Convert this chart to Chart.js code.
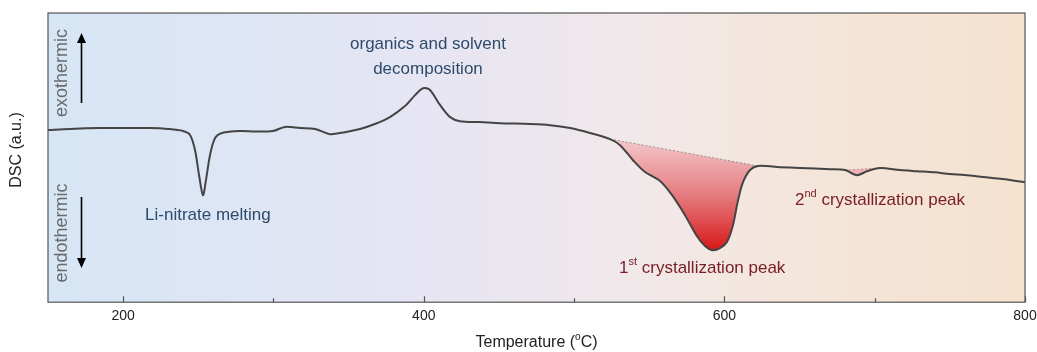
<!DOCTYPE html>
<html>
<head>
<meta charset="utf-8">
<script src="https://cdn.jsdelivr.net/npm/chart.js@4.4.1/dist/chart.umd.min.js"></script>
<style>
    html, body { margin: 0; padding: 0; background: #ffffff; }
    #wrap { width: 1037px; height: 352px; }
</style>
</head>
<body>
<div id="wrap"><canvas id="dscChart" width="1037" height="352"></canvas></div>
<script>
// DSC trace (temperature in C, signal in a.u. on a 0..100 scale)
var dscTemps = [150, 164.6, 184.6, 199.9, 217.9, 229.8, 239.8, 244.5, 247.8, 250.5, 253.1, 255.1, 257.8, 261.1, 265.8,
    277.7, 288, 299.7, 307.7, 317.7, 327.6, 337.6, 347.6, 357.6, 367.5, 377.5, 387.5, 394.2, 399.5, 404.1, 410.8,
    417.5, 424.1, 437.4, 450.7, 470.7, 484.0, 497.3, 510.6, 523.9, 530.6, 539.2, 547.2, 557.2, 565.2, 573.8,
    581.8, 587.1, 591.8, 597.1, 601.7, 605.7, 609.1, 612.4, 617.1, 622.4, 637.0, 650.3, 670.3, 680.3, 688.2,
    694.9, 703.5, 716.8, 728.2, 740, 750.1, 760, 772.1, 785, 800];
var dscValues = [59.5, 59.9, 60.2, 60.2, 60.2, 59.9, 59.2, 57.8, 52.6, 43.9, 37.0, 42.2, 50.9, 56.7, 58.5,
    59.2, 59.0, 59.2, 60.6, 60.2, 59.9, 58.1, 58.8, 59.9, 61.6, 64.0, 67.8, 71.6, 74.0, 73.4, 68.2,
    64.0, 62.6, 62.3, 61.9, 61.6, 61.2, 60.2, 58.5, 56.4, 54.3, 49.1, 45.0, 41.9, 37.0, 30.1,
    22.8, 19.4, 18.0, 18.7, 20.8, 26.6, 35.3, 41.5, 45.7, 47.1, 46.7, 46.4, 46.0, 45.7, 43.9,
    45.3, 46.4, 45.7, 45.3, 44.9, 44.3, 44.0, 43.3, 42.6, 41.5];

// dotted baselines under the two crystallization peaks
var base1Temps = [523.9, 622.4];
var base1Values = [56.4, 47.1];
var base2Temps = [680.3, 703.5];
var base2Values = [45.7, 46.4];

var majorTicks = [200, 400, 600, 800];
var minorTicks = [300, 500, 700];

function toPoints(xs, ys) {
    var out = [];
    for (var i = 0; i < xs.length; i++) {
        out.push({ x: xs[i], y: ys[i] });
    }
    return out;
}
function slicePoints(lo, hi) {
    return toPoints(dscTemps, dscValues).filter(function (p) { return p.x >= lo && p.x <= hi; });
}

function peakGradient(context) {
    var chart = context.chart;
    if (!chart.chartArea) return 'rgba(220,40,40,0.6)';
    var yS = chart.scales.y;
    var g = chart.ctx.createLinearGradient(0, yS.getPixelForValue(56), 0, yS.getPixelForValue(18));
    g.addColorStop(0, '#f4c6c8');
    g.addColorStop(0.5, '#e47c80');
    g.addColorStop(1, '#d81818');
    return g;
}

// superscript-aware text helper
function drawParts(ctx, parts, x, y, size, align) {
    var total = 0;
    parts.forEach(function (p) {
        ctx.font = (p[1] ? Math.round(size * 0.62) : size) + 'px "Liberation Sans", Arial, sans-serif';
        total += ctx.measureText(p[0]).width;
    });
    var cx = x;
    if (align == 'center') cx = x - total / 2;
    ctx.textAlign = 'left';
    ctx.textBaseline = 'middle';
    parts.forEach(function (p) {
        ctx.font = (p[1] ? Math.round(size * 0.62) : size) + 'px "Liberation Sans", Arial, sans-serif';
        ctx.fillText(p[0], cx, p[1] ? y - size * 0.38 : y);
        cx += ctx.measureText(p[0]).width;
    });
}

function drawArrow(ctx, x, y0, y1) {
    var dir = y1 < y0 ? -1 : 1;
    ctx.strokeStyle = '#000';
    ctx.fillStyle = '#000';
    ctx.lineWidth = 1.6;
    ctx.beginPath();
    ctx.moveTo(x, y0);
    ctx.lineTo(x, y1 - dir * 8);
    ctx.stroke();
    ctx.beginPath();
    ctx.moveTo(x, y1);
    ctx.lineTo(x - 4.5, y1 - dir * 10);
    ctx.lineTo(x + 4.5, y1 - dir * 10);
    ctx.closePath();
    ctx.fill();
}

var dscDecor = {
    id: 'dscDecor',
    beforeDatasetsDraw: function (chart) {
        var ctx = chart.ctx, a = chart.chartArea;
        var g = ctx.createLinearGradient(a.left, 0, a.right, 0);
        g.addColorStop(0, '#d6e6f5');
        g.addColorStop(0.38, '#e6e5f3');
        g.addColorStop(0.6, '#f1e8ea');
        g.addColorStop(0.75, '#f4e6dc');
        g.addColorStop(1, '#f5e2cf');
        ctx.save();
        ctx.fillStyle = g;
        ctx.fillRect(a.left, a.top, a.right - a.left, a.bottom - a.top);
        ctx.restore();
    },
    afterDraw: function (chart) {
        var ctx = chart.ctx, a = chart.chartArea;
        var xS = chart.scales.x, yS = chart.scales.y;
        ctx.save();
        // frame
        ctx.strokeStyle = '#555';
        ctx.lineWidth = 1.2;
        ctx.strokeRect(a.left, a.top, a.right - a.left, a.bottom - a.top);
        // inward ticks
        ctx.beginPath();
        majorTicks.forEach(function (t) {
            var px = Math.round(xS.getPixelForValue(t)) + 0.5;
            ctx.moveTo(px, a.bottom); ctx.lineTo(px, a.bottom - 6);
        });
        minorTicks.forEach(function (t) {
            var px = Math.round(xS.getPixelForValue(t)) + 0.5;
            ctx.moveTo(px, a.bottom); ctx.lineTo(px, a.bottom - 4);
        });
        ctx.stroke();

        // axis titles
        ctx.fillStyle = '#222';
        drawParts(ctx, [['Temperature (', false], ['o', true], ['C)', false]], (a.left + a.right) / 2, 343, 16, 'center');
        ctx.save();
        ctx.translate(17, 150);
        ctx.rotate(-Math.PI / 2);
        drawParts(ctx, [['DSC (a.u.)', false]], 0, 0, 16, 'center');
        ctx.restore();

        // exo / endo hints
        ctx.fillStyle = '#6b6b6b';
        ctx.save();
        ctx.translate(62, 73);
        ctx.rotate(-Math.PI / 2);
        drawParts(ctx, [['exothermic', false]], 0, 0, 18, 'center');
        ctx.restore();
        ctx.save();
        ctx.translate(62, 233);
        ctx.rotate(-Math.PI / 2);
        drawParts(ctx, [['endothermic', false]], 0, 0, 18, 'center');
        ctx.restore();
        drawArrow(ctx, 81.5, 103, 33);
        drawArrow(ctx, 81.5, 197, 268);

        // peak labels
        ctx.fillStyle = '#2d4b6d';
        drawParts(ctx, [['Li-nitrate melting', false]], xS.getPixelForValue(256.4), yS.getPixelForValue(30.1), 17, 'center');
        drawParts(ctx, [['organics and solvent', false]], xS.getPixelForValue(402.8), yS.getPixelForValue(89.3), 17, 'center');
        drawParts(ctx, [['decomposition', false]], xS.getPixelForValue(402.8), yS.getPixelForValue(80.6), 17, 'center');
        ctx.fillStyle = '#7a2025';
        drawParts(ctx, [['1', false], ['st', true], [' crystallization peak', false]], xS.getPixelForValue(529.9), yS.getPixelForValue(11.8), 17, 'left');
        drawParts(ctx, [['2', false], ['nd', true], [' crystallization peak', false]], xS.getPixelForValue(647.0), yS.getPixelForValue(35.3), 17, 'left');
        ctx.restore();
    }
};

var dscConfig = {
    type: 'line',
    data: {
        datasets: [
            {
                label: 'DSC',
                data: toPoints(dscTemps, dscValues),
                borderColor: '#444444',
                borderWidth: 2,
                pointRadius: 0,
                tension: 0.3,
                fill: false,
                order: 0
            },
            {
                label: 'peak1',
                data: slicePoints(523.9, 622.4),
                borderWidth: 0,
                borderColor: 'rgba(0,0,0,0)',
                pointRadius: 0,
                tension: 0.3,
                backgroundColor: peakGradient,
                fill: 2,
                order: 2
            },
            {
                label: 'base1',
                data: toPoints(base1Temps, base1Values),
                borderColor: '#9a8f90',
                borderWidth: 1,
                borderDash: [2, 2],
                pointRadius: 0,
                fill: false,
                order: 1
            },
            {
                label: 'peak2',
                data: slicePoints(680.3, 703.5),
                borderWidth: 0,
                borderColor: 'rgba(0,0,0,0)',
                pointRadius: 0,
                tension: 0.3,
                backgroundColor: '#eeb0b4',
                fill: 4,
                order: 2
            },
            {
                label: 'base2',
                data: toPoints(base2Temps, base2Values),
                borderColor: '#c09a9c',
                borderWidth: 1,
                borderDash: [2, 2],
                pointRadius: 0,
                fill: false,
                order: 1
            }
        ]
    },
    options: {
        responsive: false,
        animation: false,
        layout: { padding: { left: 48, right: 12, top: 13, bottom: 21 } },
        plugins: {
            legend: { display: false },
            tooltip: { enabled: false }
        },
        scales: {
            x: {
                type: 'linear',
                min: 150,
                max: 800,
                grid: { display: false, drawTicks: false },
                border: { display: false },
                afterBuildTicks: function (axis) {
                    axis.ticks = majorTicks.map(function (v) { return { value: v }; });
                },
                afterFit: function (axis) {
                    // let the 800 label hang past the frame like the original
                    axis.paddingRight = 0;
                    axis.paddingLeft = 0;
                },
                ticks: {
                    padding: 6,
                    color: '#222',
                    maxRotation: 0,
                    font: { family: '"Liberation Sans", Arial, sans-serif', size: 14 }
                }
            },
            y: {
                display: false,
                min: 0,
                max: 100
            }
        }
    },
    plugins: [dscDecor]
};

var dscChart = new Chart(document.getElementById('dscChart').getContext('2d'), dscConfig);
</script>
</body>
</html>
